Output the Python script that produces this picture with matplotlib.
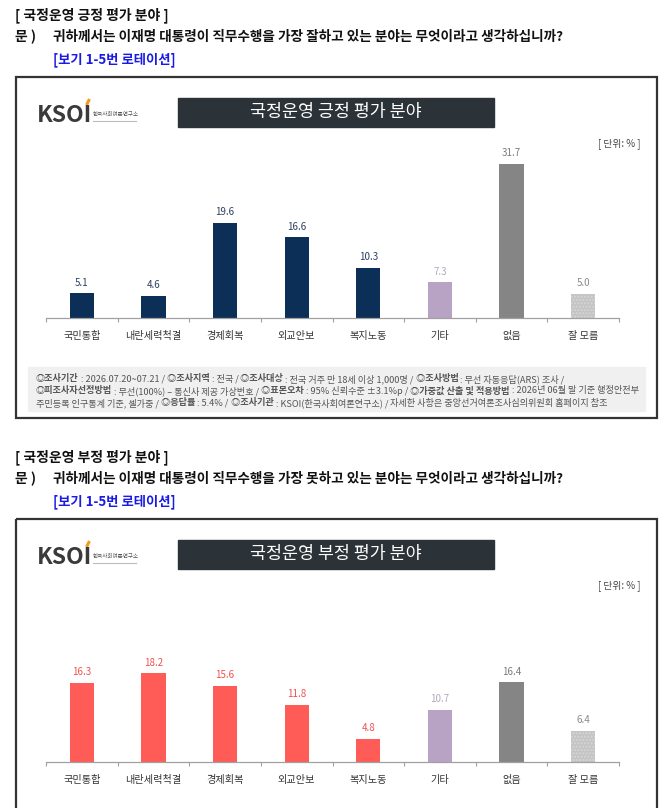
import matplotlib
matplotlib.use("Agg")
import matplotlib.pyplot as plt
from matplotlib.patches import Rectangle

plt.rcParams['font.family'] = ['Noto Sans CJK KR', 'DejaVu Sans']

# data
categories = ['국민통합', '내란세력척결', '경제회복', '외교안보', '복지노동', '기타', '없음', '잘 모름']
positive = [5.1, 4.6, 19.6, 16.6, 10.3, 7.3, 31.7, 5.0]
negative = [16.3, 18.2, 15.6, 11.8, 4.8, 10.7, 16.4, 6.4]

pos_title = '국정운영 긍정 평가 분야'
neg_title = '국정운영 부정 평가 분야'
pos_question = '귀하께서는 이재명 대통령이 직무수행을 가장 잘하고 있는 분야는 무엇이라고 생각하십니까?'
neg_question = '귀하께서는 이재명 대통령이 직무수행을 가장 못하고 있는 분야는 무엇이라고 생각하십니까?'
rotation_note = '[보기 1-5번 로테이션]'
unit_note = '[ 단위: % ]'

footnote_lines = [
    [('◎조사기간', True), (' : 2026.07.20~07.21 /', False), (' ◎조사지역', True), (' : 전국 /', False),
     (' ◎조사대상', True), (' : 전국 거주 만 18세 이상 1,000명 /', False), (' ◎조사방법', True),
     (' : 무선 자동응답(ARS) 조사 /', False)],
    [('◎피조사자선정방법', True), (' : 무선(100%) – 통신사 제공 가상번호 /', False), (' ◎표본오차', True),
     (' : 95% 신뢰수준 ±3.1%p /', False), (' ◎가중값 산출 및 적용방법', True),
     (' : 2026년 06월 말 기준 행정안전부', False)],
    [('주민등록 인구통계 기준, 셀가중 /', False), (' ◎응답률', True), (' : 5.4% /', False),
     (' ◎조사기관', True), (' : KSOI(한국사회여론연구소) /', False),
     (' 자세한 사항은 중앙선거여론조사심의위원회 홈페이지 참조', False)],
]

W, H = 668, 808
fig = plt.figure(figsize=(W / 100, H / 100), dpi=100)
ov = fig.add_axes([0, 0, 1, 1], zorder=0)
ov.set_xlim(0, W)
ov.set_ylim(H, 0)
ov.axis('off')
renderer = fig.canvas.get_renderer()


def draw_runs(x, y, parts, size, color):
    for s, bold in parts:
        t = ov.text(x, y, s, fontsize=size, color=color, va='center', ha='left',
                    fontweight='bold' if bold else 'normal')
        x += t.get_window_extent(renderer=renderer).width


def section(top, title, question, box_top, box_bottom):
    ov.text(15, top, '[ ' + title + ' ]', fontsize=10, fontweight='bold', va='center', color='#111')
    ov.text(15, top + 22, '문 )', fontsize=10, fontweight='bold', va='center', color='#111')
    ov.text(53, top + 22, question, fontsize=9.8, fontweight='bold', va='center', color='#111')
    ov.text(53, top + 45, rotation_note, fontsize=9.6, fontweight='bold', va='center', color='#1a1ae6')
    ov.add_patch(Rectangle((16, box_top), 641, box_bottom - box_top, fill=False,
                           edgecolor='#333333', linewidth=1.6))
    # header bar
    ov.add_patch(Rectangle((178, box_top + 21), 316, 29, color='#2b3238'))
    ov.text(336, box_top + 35.5, title, fontsize=12.5, color='white', ha='center', va='center')
    # logo
    ov.text(37, box_top + 38, 'KSOI', fontsize=16.5, fontweight='bold', color='#3a3a3a',
            ha='left', va='center')
    ov.plot([86.5, 89.5], [box_top + 28, box_top + 22], color='#f39a1e', linewidth=2.2,
            solid_capstyle='butt')
    ov.text(93, box_top + 38, '한국사회여론연구소', fontsize=4.0, color='#555', ha='left', va='center')
    ov.plot([93, 136], [box_top + 44, box_top + 44], color='#bbbbbb', linewidth=0.8)
    ov.text(640, box_top + 67, unit_note, fontsize=7, color='#444', ha='right', va='center')


def bars(baseline, values, main_color, main_label):
    scale = 4.87
    top = 178
    ax = fig.add_axes([46 / W, (H - baseline) / H, 573 / W, top / H], zorder=2)
    ax.patch.set_alpha(0)
    colors = [main_color] * 5 + ['#b9a3c4', '#858585', '#c4c4c4']
    lcolors = [main_label] * 5 + ['#b3a9bb', '#7a7a7a', '#8a8a8a']
    xs = range(len(categories))
    bs = ax.bar(xs, values, width=0.34, color=colors, linewidth=0)
    bs[-1].set_hatch('.....')
    bs[-1].set_edgecolor('#d6d6d6')
    for i, v in enumerate(values):
        ax.annotate(f'{v:.1f}', (i, v), xytext=(0, 4), textcoords='offset points',
                    ha='center', va='bottom', fontsize=7, color=lcolors[i])
    ax.set_xlim(-0.5, len(categories) - 0.5)
    ax.set_ylim(0, top / scale)
    for s in ['top', 'right', 'left']:
        ax.spines[s].set_visible(False)
    ax.spines['bottom'].set_color('#a0a0a0')
    ax.spines['bottom'].set_linewidth(0.9)
    ax.set_yticks([])
    ax.set_xticks(list(xs))
    ax.set_xticklabels(categories, fontsize=7.3, color='#333')
    ax.tick_params(axis='x', which='major', length=0, pad=9)
    ax.set_xticks([i + 0.5 for i in range(-1, len(categories))], minor=True)
    ax.tick_params(axis='x', which='minor', length=3, color='#a0a0a0', width=0.8)
    return ax


# section 1
section(15, pos_title, pos_question, 77, 418)
bars(318, positive, '#0b2f57', '#2a3f5f')
ov.add_patch(Rectangle((28, 367), 617, 44, color='#f0f0f0', zorder=0))
for k, parts in enumerate(footnote_lines):
    draw_runs(36, 379 + 12 * k, parts, 6.6, '#555555')

# section 2
section(457, neg_title, neg_question, 519, 840)
bars(762, negative, '#ff5b57', '#f05050')

fig.savefig('out.png', dpi=100)
